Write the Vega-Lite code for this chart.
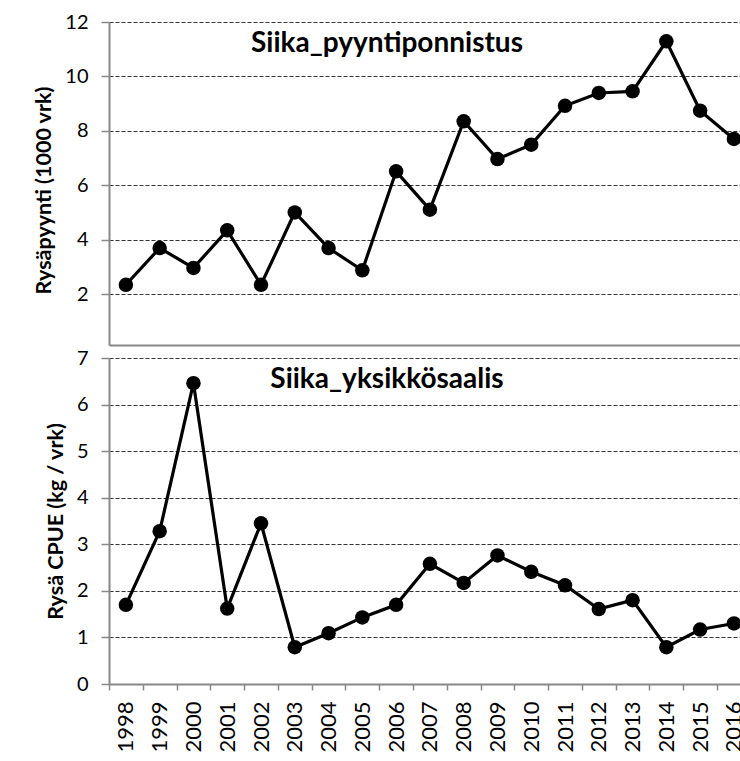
{
  "$schema": "https://vega.github.io/schema/vega-lite/v6.json",
  "padding": {"left": 33, "top": 12, "right": 0, "bottom": 5},
  "spacing": 3,
  "background": "white",
  "config": {
    "view": {"stroke": null},
    "font": "Lato",
    "axis": {
      "domainColor": "#888888",
      "domainWidth": 2,
      "tickColor": "#888888",
      "tickWidth": 1.5,
      "labelFont": "Lato",
      "labelFontSize": 20,
      "labelColor": "#000000",
      "titleFont": "Lato",
      "titleFontSize": 21.5,
      "titleFontWeight": "bold",
      "titleColor": "#000000"
    },
    "axisY": {
      "tickSize": 8,
      "labelPadding": 13,
      "titlePadding": 9,
      "grid": true,
      "gridColor": "#333333",
      "gridDash": [4, 2],
      "gridWidth": 1
    }
  },
  "datasets": {
    "effort": [
      {"year": 1998, "value": 2.34}, {"year": 1999, "value": 3.69}, {"year": 2000, "value": 2.96},
      {"year": 2001, "value": 4.34}, {"year": 2002, "value": 2.34}, {"year": 2003, "value": 5.0},
      {"year": 2004, "value": 3.69}, {"year": 2005, "value": 2.87}, {"year": 2006, "value": 6.51},
      {"year": 2007, "value": 5.1}, {"year": 2008, "value": 8.35}, {"year": 2009, "value": 6.96},
      {"year": 2010, "value": 7.49}, {"year": 2011, "value": 8.92}, {"year": 2012, "value": 9.39},
      {"year": 2013, "value": 9.45}, {"year": 2014, "value": 11.29}, {"year": 2015, "value": 8.74},
      {"year": 2016, "value": 7.7}
    ],
    "cpue": [
      {"year": 1998, "value": 1.7}, {"year": 1999, "value": 3.28}, {"year": 2000, "value": 6.46},
      {"year": 2001, "value": 1.62}, {"year": 2002, "value": 3.45}, {"year": 2003, "value": 0.79},
      {"year": 2004, "value": 1.09}, {"year": 2005, "value": 1.43}, {"year": 2006, "value": 1.7},
      {"year": 2007, "value": 2.58}, {"year": 2008, "value": 2.17}, {"year": 2009, "value": 2.76},
      {"year": 2010, "value": 2.41}, {"year": 2011, "value": 2.12}, {"year": 2012, "value": 1.61},
      {"year": 2013, "value": 1.8}, {"year": 2014, "value": 0.79}, {"year": 2015, "value": 1.17},
      {"year": 2016, "value": 1.3}
    ]
  },
  "vconcat": [
    {
      "width": 632,
      "height": 323,
      "data": {"name": "effort"},
      "title": {
        "text": "Siika_pyyntiponnistus",
        "font": "Lato",
        "fontSize": 28,
        "fontWeight": "bold",
        "color": "#000000",
        "anchor": "middle",
        "frame": "group",
        "offset": -46,
        "dx": -38
      },
      "encoding": {
        "x": {
          "field": "year",
          "type": "quantitative",
          "scale": {"domain": [1997.5, 2016.21], "nice": false, "zero": false},
          "axis": {"title": null, "labels": false, "ticks": false, "grid": false}
        },
        "y": {
          "field": "value",
          "type": "quantitative",
          "scale": {"domain": [0.125, 12], "nice": false, "zero": false},
          "axis": {"values": [2, 4, 6, 8, 10, 12], "title": "Rysäpyynti (1000 vrk)", "titleY": 168}
        }
      },
      "layer": [
        {"mark": {"type": "line", "color": "#000000", "strokeWidth": 3.2}},
        {"mark": {"type": "circle", "color": "#000000", "size": 210, "opacity": 1}}
      ]
    },
    {
      "width": 632,
      "height": 326,
      "data": {"name": "cpue"},
      "title": {
        "text": "Siika_yksikkösaalis",
        "font": "Lato",
        "fontSize": 28,
        "fontWeight": "bold",
        "color": "#000000",
        "anchor": "middle",
        "frame": "group",
        "offset": -46,
        "dx": -38
      },
      "encoding": {
        "x": {
          "field": "year",
          "type": "quantitative",
          "scale": {"domain": [1997.5, 2016.21], "nice": false, "zero": false},
          "axis": {
            "title": null,
            "grid": false,
            "values": [1997.5, 1998, 1998.5, 1999, 1999.5, 2000, 2000.5, 2001, 2001.5, 2002, 2002.5, 2003, 2003.5, 2004, 2004.5, 2005, 2005.5, 2006, 2006.5, 2007, 2007.5, 2008, 2008.5, 2009, 2009.5, 2010, 2010.5, 2011, 2011.5, 2012, 2012.5, 2013, 2013.5, 2014, 2014.5, 2015, 2015.5, 2016],
            "labelExpr": "datum.value % 1 === 0 ? '' + datum.value : ''",
            "tickColor": {"condition": {"test": "datum.value % 1 !== 0", "value": "#888888"}, "value": "transparent"},
            "tickSize": 6,
            "labelAngle": -90,
            "labelAlign": "right",
            "labelBaseline": "middle",
            "labelPadding": 11,
            "labelFontSize": 22,
            "labelFlush": false,
            "labelOverlap": false,
            "labelBound": false
          }
        },
        "y": {
          "field": "value",
          "type": "quantitative",
          "scale": {"domain": [0, 7], "nice": false, "zero": false},
          "axis": {"values": [0, 1, 2, 3, 4, 5, 6, 7], "title": "Rysä CPUE (kg / vrk)"}
        }
      },
      "layer": [
        {"mark": {"type": "line", "color": "#000000", "strokeWidth": 3.2}},
        {"mark": {"type": "circle", "color": "#000000", "size": 210, "opacity": 1}}
      ]
    }
  ]
}
